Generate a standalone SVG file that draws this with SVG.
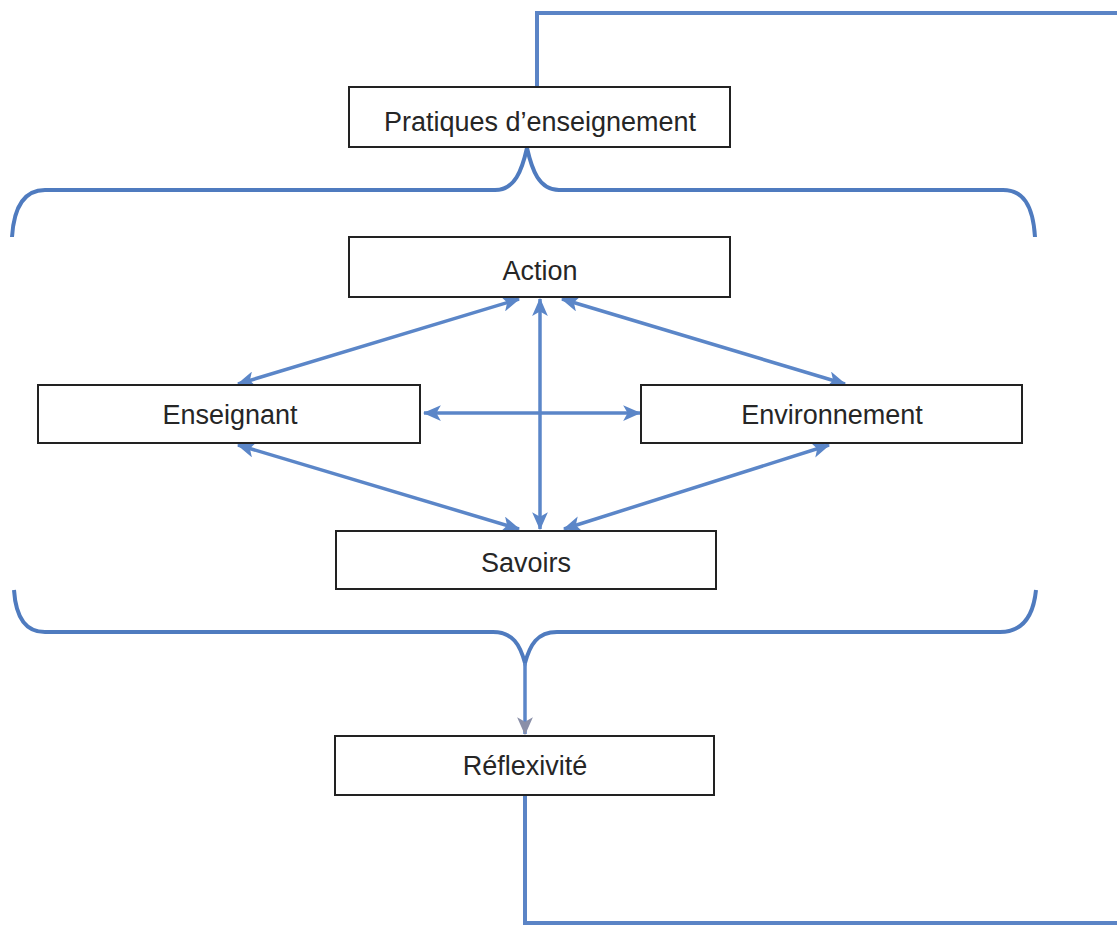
<svg xmlns="http://www.w3.org/2000/svg" width="1117" height="929" viewBox="0 0 1117 929">
<style>
.box{fill:#ffffff;stroke:#222222;stroke-width:2}
.lbl{font-family:"Liberation Sans",Arial,sans-serif;font-size:27px;fill:#262626;text-anchor:middle}
.conn{fill:none;stroke:#5b86c8;stroke-width:3.5}
.brace{fill:none;stroke:#4f7bbf;stroke-width:4}
.loop{fill:none;stroke:#5b84c6;stroke-width:4}
</style>
<defs>
<marker id="ah" viewBox="0 0 16 14" markerWidth="18" markerHeight="16" refX="15" refY="7" orient="auto-start-reverse" markerUnits="userSpaceOnUse">
<path d="M0,0 L16,7 L0,14 L4,7 z" fill="#5b86c8"/>
</marker>
<marker id="ahg" viewBox="0 0 16 14" markerWidth="18" markerHeight="16" refX="15" refY="7" orient="auto" markerUnits="userSpaceOnUse">
<path d="M0,0 L16,7 L0,14 L4,7 z" fill="#8a8fa8"/>
</marker>
</defs>
<rect width="1117" height="929" fill="#ffffff"/>
<g id="connectors">
<path class="loop" d="M537,87 V13 H1117"/>
<path class="loop" d="M525,795 V923 H1117"/>
<path class="brace" d="M12,237 C14,205 25,190 45,190 H495 C515,190 522,170 527,148 C532,170 539,190 559,190 H1003 C1023,190 1033,205 1035,237"/>
<path class="brace" d="M14,590 C16,620 27,632 45,632 H493 C513,632 520,645 525,663 C530,645 537,632 557,632 H1000 C1020,632 1033,620 1036,590"/>
<line class="conn" x1="525" y1="663" x2="525" y2="734" marker-end="url(#ahg)"/>
<line class="conn" x1="519" y1="299" x2="238" y2="384" marker-start="url(#ah)" marker-end="url(#ah)"/>
<line class="conn" x1="562" y1="299" x2="845" y2="384" marker-start="url(#ah)" marker-end="url(#ah)"/>
<line class="conn" x1="540" y1="299" x2="540" y2="529" marker-start="url(#ah)" marker-end="url(#ah)"/>
<line class="conn" x1="424" y1="413" x2="640" y2="413" marker-start="url(#ah)" marker-end="url(#ah)"/>
<line class="conn" x1="238" y1="445" x2="519" y2="529" marker-start="url(#ah)" marker-end="url(#ah)"/>
<line class="conn" x1="829" y1="445" x2="564" y2="529" marker-start="url(#ah)" marker-end="url(#ah)"/>
</g>
<g id="pratiques">
<rect class="box" x="349" y="87" width="381" height="60"/>
<text class="lbl" x="540" y="131">Pratiques d’enseignement</text>
</g>
<g id="action">
<rect class="box" x="349" y="237" width="381" height="60"/>
<text class="lbl" x="540" y="280">Action</text>
</g>
<g id="enseignant">
<rect class="box" x="38" y="385" width="382" height="58"/>
<text class="lbl" x="230" y="424">Enseignant</text>
</g>
<g id="environnement">
<rect class="box" x="641" y="385" width="381" height="58"/>
<text class="lbl" x="832" y="424">Environnement</text>
</g>
<g id="savoirs">
<rect class="box" x="336" y="531" width="380" height="58"/>
<text class="lbl" x="526" y="572">Savoirs</text>
</g>
<g id="reflexivite">
<rect class="box" x="335" y="736" width="379" height="59"/>
<text class="lbl" x="525" y="775">Réflexivité</text>
</g>
</svg>
